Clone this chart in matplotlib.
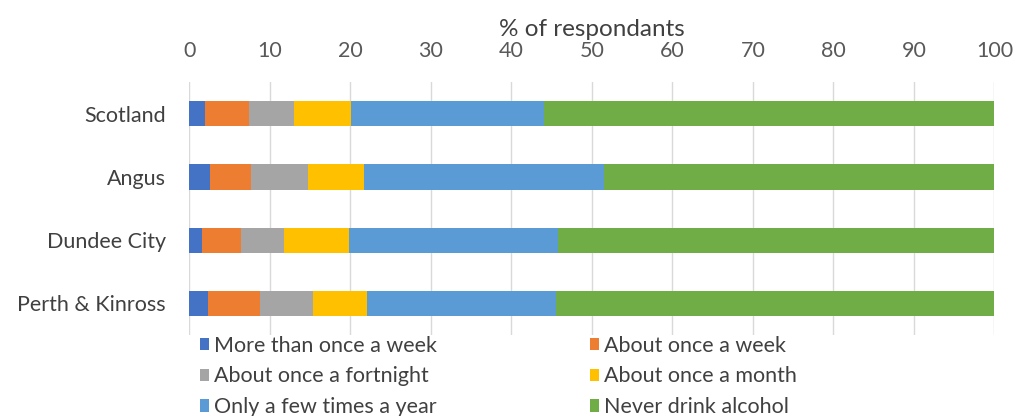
import matplotlib
matplotlib.use("Agg")
import matplotlib.pyplot as plt
from matplotlib.patches import Patch

plt.rcParams['font.family'] = ['Lato', 'DejaVu Sans']

areas = ["Scotland", "Angus", "Dundee City", "Perth & Kinross"]
series_names = ["More than once a week", "About once a week", "About once a fortnight",
                "About once a month", "Only a few times a year", "Never drink alcohol"]
more_than_weekly = [1.9, 2.6, 1.6, 2.3]
weekly = [5.5, 5.0, 4.8, 6.5]
fortnightly = [5.6, 7.1, 5.4, 6.5]
monthly = [7.1, 7.0, 8.0, 6.8]
few_times_year = [23.9, 29.8, 26.0, 23.4]
never = [56.0, 48.5, 54.2, 54.5]
x_ticks = [0, 10, 20, 30, 40, 50, 60, 70, 80, 90, 100]

series = [more_than_weekly, weekly, fortnightly, monthly, few_times_year, never]
colors = ["#4472C4", "#ED7D31", "#A5A5A5", "#FFC000", "#5B9BD5", "#70AD47"]

fig = plt.figure(figsize=(10.18, 4.16), dpi=100)
ax = fig.add_axes([0.1861, 0.1947, 0.7908, 0.608])

ypos = list(range(len(areas)))
left = [0.0] * len(areas)
for vals, col, name in zip(series, colors, series_names):
    ax.barh(ypos, vals, left=left, height=0.4, color=col, label=name, zorder=3)
    left = [l + v for l, v in zip(left, vals)]

ax.set_xlim(0, 100)
ax.set_ylim(3.5, -0.5)
ax.set_yticks(ypos)
ax.set_yticklabels(areas, fontsize=15.5, color="#404040")
ax.set_xticks(x_ticks)
ax.set_xticklabels([str(t) for t in x_ticks], fontsize=15.5, color="#595959")
ax.xaxis.tick_top()
ax.xaxis.set_label_position("top")
ax.set_xlabel("% of respondants", fontsize=17.5, color="#404040", labelpad=4)
ax.tick_params(axis="y", length=0, pad=17)
ax.tick_params(axis="x", length=0, pad=15)
ax.grid(axis="x", color="#D9D9D9", linewidth=1, zorder=0)
for s in ax.spines.values():
    s.set_visible(False)

handles = [Patch(facecolor=c, edgecolor="none") for c in colors]
order = [0, 2, 4, 1, 3, 5]
fig.legend([handles[i] for i in order], [series_names[i] for i in order],
           ncol=2, loc="upper left", bbox_to_anchor=(0.186, 0.219),
           frameon=False, fontsize=15.5, labelcolor="#404040",
           handlelength=0.4, handleheight=0.5, handletextpad=0.25,
           columnspacing=7.1, labelspacing=0.5, borderpad=0)

fig.savefig("out.png", dpi=100, facecolor="white")
